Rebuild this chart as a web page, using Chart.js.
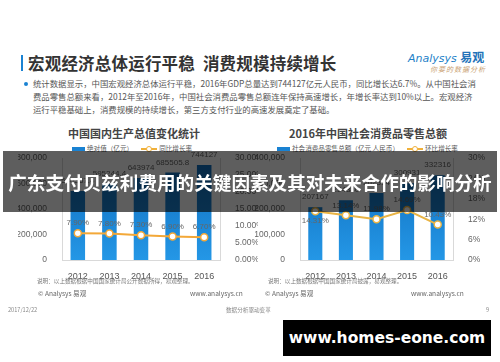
<!DOCTYPE html>
<html lang="zh-CN">
<head>
<meta charset="UTF-8">
<title>宏观经济总体运行平稳 消费规模持续增长</title>
<script src="https://cdn.jsdelivr.net/npm/chart.js"></script>
<style>
    body { margin: 0; width: 500px; height: 362px; overflow: hidden; background: #fff; position: relative;
           font-family: "Noto Sans CJK SC", "Liberation Sans", sans-serif; }
    .abs { position: absolute; white-space: nowrap; }
    .head-bar { left: 21px; top: 55px; width: 2px; height: 16px; background: #1a82d2; }
    .head { left: 28px; top: 51px; font-size: 16.5px; font-weight: bold; color: #333; letter-spacing: 0.2px; }
    .logo1 { left: 408px; top: 48px; font-size: 11px; color: #1d7fc8; font-style: italic; font-family: "DejaVu Sans", sans-serif; }
    .logo1 b { font-style: normal; font-family: "Noto Sans CJK SC"; font-size: 12px; color: #2372b8; }
    .logo2 { left: 430px; top: 64px; font-size: 7px; color: #c9a070; font-style: italic; letter-spacing: 1px; }
    .dot { left: 24px; top: 82px; width: 4px; height: 4px; border-radius: 50%; background: #1a82d2; }
    .para { left: 33px; top: 77px; font-size: 8.4px; line-height: 13px; color: #555; }
    .ctitle { top: 125px; font-size: 11px; font-weight: bold; color: #444; transform: translateX(-50%); }
    .leg { top: 143px; font-size: 6.6px; color: #555; }
    .sw { display: inline-block; width: 13px; height: 4px; background: #1a82d2; vertical-align: middle; margin-right: 2px; }
    .lsw { display: inline-block; position: relative; width: 16px; height: 8px; vertical-align: middle; margin: 0 2px 0 8px; }
    .lsw::before { content: ""; position: absolute; left: 0; right: 0; top: 3px; height: 2px; background: #f0b03a; }
    .lsw::after { content: ""; position: absolute; left: 5px; top: 1px; width: 4px; height: 4px; border: 1px solid #f0b03a; border-radius: 50%; background: #fff; }
    .note { top: 277px; font-size: 5.6px; color: #777; }
    .src { top: 288px; font-size: 6.6px; color: #666; }
    .foot { top: 306px; font-size: 5.6px; color: #888; }
    canvas { position: absolute; }
    .banner { left: 3px; top: 151px; width: 494px; height: 61px; background: rgba(0, 0, 0, 0.63);
              color: #fff; font-size: 18.6px; font-weight: bold; text-align: center; line-height: 61px; }
    .wm { left: 283px; top: 320px; width: 208px; height: 36px; background: #000; color: #fff;
          font-family: "DejaVu Sans", sans-serif; font-weight: bold; font-size: 15.5px; text-align: center; line-height: 36px; }
</style>
</head>
<body>
    <div class="abs head-bar"></div>
    <div class="abs head">宏观经济总体运行平稳&nbsp;&nbsp;消费规模持续增长</div>
    <div class="abs logo1">Analysys <b>易观</b></div>
    <div class="abs logo2">你要的数据分析</div>
    <div class="abs dot"></div>
    <div class="abs para">统计数据显示，中国宏观经济总体运行平稳，2016年GDP总量达到744127亿元人民币，同比增长达6.7%。从中国社会消<br>费品零售总额来看，2012年至2016年，中国社会消费品零售总额连年保持高速增长，年增长率达到10%以上。宏观经济<br>运行平稳基础上，消费规模的持续增长，第三方支付行业的高速发展奠定了基础。</div>

    <div class="abs ctitle" style="left:134px">中国国内生产总值变化统计</div>
    <div class="abs leg" style="left:72px"><span class="sw"></span>绝对值（亿元）<span class="lsw"></span>同比增长率</div>
    <div class="abs ctitle" style="left:368px">2016年中国社会消费品零售总额</div>
    <div class="abs leg" style="left:277px"><span class="sw"></span>社会消费品零售总额（亿元 人民币）<span class="lsw"></span>环比增长率</div>

    <canvas id="gdpChart" width="240" height="140" style="left:18px;top:140px"></canvas>
    <canvas id="retailChart" width="240" height="140" style="left:255px;top:140px"></canvas>

    <div class="abs note" style="left:37px">说明：以上数据根据中国国家统计局公开数据所得，易观整理。</div>
    <div class="abs note" style="left:268px">说明：以上数据根据中国国家统计局披露，易观整理。</div>
    <div class="abs src" style="left:38px">© Analysys 易观</div>
    <div class="abs src" style="left:190px">www.analysys.cn</div>
    <div class="abs src" style="left:265px">© Analysys 易观</div>
    <div class="abs src" style="left:411px">www.analysys.cn</div>
    <div class="abs foot" style="left:8px">2017/12/22</div>
    <div class="abs foot" style="left:226px">数据分析驱动变革</div>
    <div class="abs foot" style="left:486px">9</div>

    <div class="abs banner">广东支付贝兹利费用的关键因素及其对未来合作的影响分析</div>
    <div class="abs wm">www.homes-eone.com</div>

<script>
    var years = ['2012', '2013', '2014', '2015', '2016'];
    var gdpValues = [540367.4, 595244.4, 643974, 685505.8, 744127];
    var gdpGrowth = [7.9, 7.8, 7.3, 6.9, 6.7];
    var retailValues = [207167, 234380, 262394, 300931, 332316];
    var retailGrowth = [14.31, 13.14, 11.98, 14.69, 10.43];
    var retailGrowthBelow = [true, false, false, false, false];

    var tickFont = { family: 'Liberation Sans', size: 8.5 };

    // bar fill: a bit darker at the top
    function barFill(context) {
        const area = context.chart.chartArea;
        if (!area) return '#1a82d2';
        const g = context.chart.ctx.createLinearGradient(0, area.top, 0, area.bottom);
        g.addColorStop(0, '#0f6cbc');
        g.addColorStop(1, '#2497e6');
        return g;
    }

    // numbers over bars and points
    const valueLabels = {
        id: 'valueLabels',
        afterDatasetsDraw(chart) {
            const ctx = chart.ctx;
            ctx.save();
            ctx.font = '8px "Liberation Sans"';
            ctx.fillStyle = '#666';
            ctx.textAlign = 'center';
            ctx.textBaseline = 'middle';
            chart.data.datasets.forEach((ds, di) => {
                const meta = chart.getDatasetMeta(di);
                meta.data.forEach((el, i) => {
                    const below = ds.below && ds.below[i];
                    ctx.fillText(ds.texts[i], el.x, below ? el.y + 9 : el.y - 10);
                });
            });
            ctx.restore();
        }
    };

    function makeChart(id, values, growth, texts, growthTexts, below, yMax, yStep, rMax, rStep, rFmt, leftW, rightW, lineColor) {
        const ctx = document.getElementById(id).getContext('2d');
        return new Chart(ctx, {
            type: 'bar',
            data: {
                labels: years,
                datasets: [{
                    type: 'line',
                    data: growth,
                    texts: growthTexts,
                    below: below,
                    yAxisID: 'y1',
                    borderColor: lineColor,
                    borderWidth: 2,
                    pointRadius: 3.5,
                    pointBorderWidth: 1.5,
                    pointBackgroundColor: '#fff',
                    pointBorderColor: lineColor,
                    tension: 0,
                    order: 0
                }, {
                    data: values,
                    texts: texts,
                    yAxisID: 'y',
                    backgroundColor: barFill,
                    categoryPercentage: 1,
                    barPercentage: 0.46,
                    order: 1
                }]
            },
            options: {
                responsive: false,
                animation: false,
                layout: { padding: { top: 18, bottom: 0, left: 0, right: 0 } },
                plugins: { legend: { display: false }, tooltip: { enabled: false } },
                scales: {
                    x: {
                        grid: { display: false },
                        border: { color: '#d9d9d9' },
                        ticks: { font: { family: 'Liberation Sans', size: 9 }, color: '#555', padding: 3 },
                        afterFit(s) { s.height = 20; }
                    },
                    y: {
                        position: 'left',
                        min: 0, max: yMax,
                        grid: { display: false },
                        border: { color: '#d9d9d9' },
                        ticks: { stepSize: yStep, font: tickFont, color: '#666', padding: 7 },
                        afterFit(s) { s.width = leftW; }
                    },
                    y1: {
                        position: 'right',
                        min: 0, max: rMax,
                        grid: { display: false },
                        border: { color: '#d9d9d9' },
                        ticks: { stepSize: rStep, font: tickFont, color: '#666', padding: 7, callback: rFmt },
                        afterFit(s) { s.width = rightW; }
                    }
                }
            },
            plugins: [valueLabels]
        });
    }

    makeChart('gdpChart', gdpValues, gdpGrowth,
        gdpValues.map(v => String(v)), gdpGrowth.map(v => v.toFixed(2) + '%'), null,
        800000, 200000, 30, 5, v => v.toFixed(2) + '%', 44, 38, '#f3a838');

    makeChart('retailChart', retailValues, retailGrowth,
        retailValues.map(v => String(v)), retailGrowth.map(v => v.toFixed(2) + '%'), retailGrowthBelow,
        400000, 100000, 30, 6, v => v + '%', 45, 42, '#e9b445');
</script>
</body>
</html>
